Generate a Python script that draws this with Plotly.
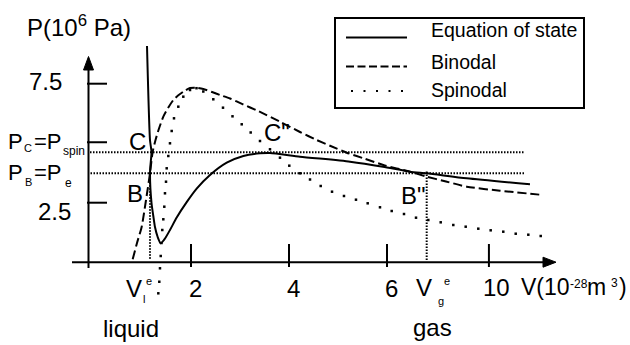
import plotly.graph_objects as go

# ---------------- data (V in 1e-28 m^3, P in 1e6 Pa) ----------------
eos_v = [1.102, 1.163, 1.194, 1.173, 1.163, 1.194, 1.231, 1.265, 1.320, 1.382,
         1.469, 1.571, 1.708, 1.912, 2.116, 2.388, 2.729, 3.068, 3.408, 3.612,
         4.224, 5.245, 5.918, 6.469, 6.816, 7.627, 8.918]
eos_p = [9.084, 5.134, 4.630, 4.084, 3.748, 2.487, 1.941, 1.479, 1.059, 0.794,
         0.996, 1.353, 1.877, 2.522, 3.090, 3.664, 4.181, 4.462, 4.573, 4.588,
         4.433, 4.223, 4.013, 3.803, 3.735, 3.525, 3.273]

bin_v = [0.810, 0.898, 0.994, 1.082, 1.163, 1.218, 1.276, 1.337, 1.435, 1.531,
         1.639, 1.735, 1.843, 1.980, 2.112, 2.251, 2.429, 2.592, 2.796, 3.061,
         3.347, 3.816, 4.224, 4.565, 4.837, 5.178, 5.551, 5.924, 6.469, 6.810,
         7.204, 7.627, 8.306, 9.184]
bin_p = [0.122, 0.807, 1.492, 2.613, 3.735, 4.643, 5.134, 5.555, 6.113, 6.479,
         6.815, 7.004, 7.164, 7.319, 7.328, 7.277, 7.151, 7.025, 6.878, 6.634,
         6.374, 5.903, 5.471, 5.134, 4.891, 4.601, 4.345, 4.084, 3.803, 3.592,
         3.391, 3.172, 3.004, 2.824]

spin_v = [1.333, 1.353, 1.367, 1.382, 1.398, 1.414, 1.435, 1.455, 1.469, 1.490,
          1.504, 1.537, 1.571, 1.606, 1.653, 1.741, 1.843, 1.980, 2.112, 2.251,
          2.455, 2.653, 2.847, 3.035, 3.218, 3.408, 3.612, 3.816, 4.006, 4.224,
          4.429, 4.647, 4.878, 5.122, 5.367, 5.606, 5.857, 6.096, 6.347, 6.592,
          6.843, 7.096, 7.353, 7.606, 7.863, 8.116, 8.373, 8.627, 8.884, 9.137]
spin_p = [-1.307, -0.821, -0.256, 0.261, 0.807, 1.353, 1.803, 2.332, 2.895, 3.382,
          3.945, 4.462, 4.996, 5.513, 6.046, 6.534, 6.954, 7.235, 7.311, 7.172,
          6.845, 6.492, 6.130, 5.794, 5.450, 5.092, 4.744, 4.391, 4.055, 3.735,
          3.475, 3.202, 2.962, 2.782, 2.626, 2.475, 2.307, 2.151, 2.025, 1.870,
          1.773, 1.676, 1.563, 1.492, 1.408, 1.340, 1.282, 1.197, 1.155, 1.101]

P_C = 4.62      # P_C = P_spin level
P_B = 3.735     # P_B = P_e level
V_LE = 1.163    # V_l^e
V_GE = 6.81     # V_g^e
x_tick_vals = [2, 4, 6, 8.08]
x_tick_text = ["2", "4", "6", "10"]
y_tick_vals = [2.5, 5.04, 7.5]
y_tick_text = ["2.5", "", "7.5"]
legend_names = ["Equation of state", "Binodal", "Spinodal"]

# ---------------- pixel helpers for layout placement ----------------
X0, SX = 93.0, 49.0
Y0, SY = 262.2, 23.8
def V(px):
    return (px - X0) / SX
def P(py):
    return (Y0 - py) / SY

FONT = "Liberation Sans, Arial, sans-serif"
BLACK = "#000000"

fig = go.Figure()
fig.add_trace(go.Scatter(x=eos_v, y=eos_p, mode="lines", line_shape="spline",
                         line=dict(color=BLACK, width=2, smoothing=0.6),
                         name=legend_names[0], showlegend=False, hoverinfo="skip"))
fig.add_trace(go.Scatter(x=bin_v, y=bin_p, mode="lines", line_shape="spline",
                         line=dict(color=BLACK, width=2, dash="9px,4px", smoothing=0.6),
                         name=legend_names[1], showlegend=False, hoverinfo="skip"))
fig.add_trace(go.Scatter(x=spin_v, y=spin_p, mode="markers",
                         marker=dict(symbol="square", size=2.5, color=BLACK, line=dict(width=0)),
                         name=legend_names[2], showlegend=False, hoverinfo="skip"))

shapes = []
DOT = "1.5px,1.5px"
# axes lines + arrowheads
shapes.append(dict(type="line", x0=V(88.5), x1=V(88.5), y0=P(268), y1=P(66),
                   line=dict(color=BLACK, width=2)))
shapes.append(dict(type="line", x0=V(72), x1=0 + V(546), y0=0, y1=0,
                   line=dict(color=BLACK, width=2)))
shapes.append(dict(type="path",
                   path=f"M {V(88.5)},{P(56.5)} L {V(93.5)},{P(70)} L {V(83.5)},{P(70)} Z",
                   fillcolor=BLACK, line=dict(color=BLACK, width=1)))
shapes.append(dict(type="path",
                   path=f"M {V(556)},{P(Y0)} L {V(543)},{P(Y0 - 5)} L {V(543)},{P(Y0 + 5)} Z",
                   fillcolor=BLACK, line=dict(color=BLACK, width=1)))
# reference level lines
shapes.append(dict(type="line", x0=V(90), x1=V(525), y0=P_C, y1=P_C,
                   line=dict(color=BLACK, width=2, dash=DOT)))
shapes.append(dict(type="line", x0=V(90.5), x1=V(524), y0=P_B, y1=P_B,
                   line=dict(color=BLACK, width=2, dash=DOT)))
shapes.append(dict(type="line", x0=V_LE, x1=V_LE, y0=P_B, y1=P(260),
                   line=dict(color=BLACK, width=2, dash=DOT)))
shapes.append(dict(type="line", x0=V_GE, x1=V_GE, y0=P(171.5), y1=P(260),
                   line=dict(color=BLACK, width=2, dash=DOT)))
# y ticks
for yv in y_tick_vals:
    shapes.append(dict(type="line", x0=V(87), x1=V(107), y0=yv, y1=yv,
                       line=dict(color=BLACK, width=2)))
# x ticks
for xv in x_tick_vals:
    shapes.append(dict(type="line", x0=xv, x1=xv, y0=P(244), y1=P(267),
                       line=dict(color=BLACK, width=2)))
# legend box and samples
shapes.append(dict(type="rect", x0=V(335), x1=V(584), y0=P(18), y1=P(108),
                   line=dict(color=BLACK, width=2), fillcolor="white"))
shapes.append(dict(type="line", x0=V(346), x1=V(407), y0=P(37.5), y1=P(37.5),
                   line=dict(color=BLACK, width=2)))
shapes.append(dict(type="line", x0=V(346), x1=V(407), y0=P(66.5), y1=P(66.5),
                   line=dict(color=BLACK, width=2, dash="8px,3.5px")))
shapes.append(dict(type="line", x0=V(351), x1=V(404), y0=P(91), y1=P(91),
                   line=dict(color=BLACK, width=2, dash="2px,10.5px")))

ann = []
def txt(s, px, py, size, xanchor="left"):
    ann.append(dict(x=V(px), y=P(py), xref="x", yref="y", text=s, showarrow=False,
                    xanchor=xanchor, yanchor="middle",
                    font=dict(family=FONT, size=size, color=BLACK)))

# y axis title
txt("P(10<sup>6</sup> Pa)", 25, 26, 24)
# y tick labels
txt(y_tick_text[2], 64, 81, 24, "right")
txt(y_tick_text[0], 73, 211, 24, "right")
# P_C = P_spin
txt("P", 6, 141, 22)
txt("C", 22, 148, 11)
txt("=P", 32, 141, 22)
txt("spin", 61, 151, 12)
# P_B = P_e
txt("P", 6, 172, 22)
txt("B", 23, 182, 11)
txt("=P", 32, 172, 22)
txt("e", 63, 183, 12)
# point labels
txt("C", 137, 141, 24, "center")
txt("B", 135, 193, 24, "center")
txt("C\"", 277, 132, 24, "center")
txt("B\"", 413, 195, 24, "center")
# x tick labels
for xv, xl in zip(x_tick_vals[:3], x_tick_text[:3]):
    txt(xl, X0 + SX * xv + 4, 288, 24, "center")
txt(x_tick_text[3], 496, 287, 24, "center")
# V_l^e
txt("V", 124, 288, 24)
txt("e", 144, 281, 11)
txt("l", 141, 299, 11)
# V_g^e
txt("V", 414, 287, 24)
txt("e", 442, 281, 11)
txt("g", 436, 301, 11)
# x axis title
txt("V(10", 519, 287, 23)
txt("-28", 568, 284, 12)
txt("m", 585, 287, 23)
txt("3", 609, 283, 12)
txt(")", 617, 287, 23)
# phase labels
txt("liquid", 131, 328, 24, "center")
txt("gas", 432, 327, 24, "center")
# legend texts
txt(legend_names[0], 429, 30, 19.5)
txt(legend_names[1], 429, 62, 19.5)
txt(legend_names[2], 429, 90, 19.5)

fig.update_layout(
    width=630, height=345, autosize=False,
    margin=dict(l=0, r=0, t=0, b=0, pad=0),
    paper_bgcolor="white", plot_bgcolor="white",
    xaxis=dict(visible=False, range=[V(0), V(630)], fixedrange=True),
    yaxis=dict(visible=False, range=[P(345), P(0)], fixedrange=True),
    shapes=shapes, annotations=ann, showlegend=False,
)

fig.write_html("out.html", config={"displayModeBar": False, "staticPlot": True},
               post_script="document.body.style.margin='0';document.body.style.overflow='hidden';")
